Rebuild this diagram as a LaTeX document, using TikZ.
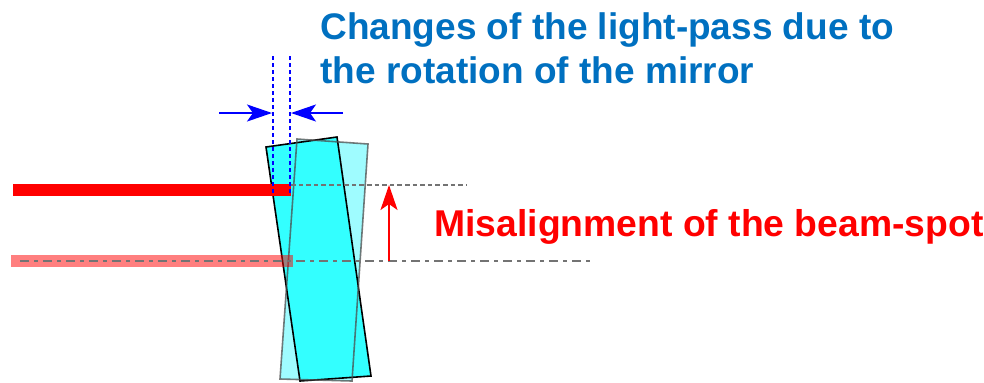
\documentclass[tikz,border=0pt]{standalone}
\usepackage{fontspec}
\setmainfont{Liberation Sans}
\usetikzlibrary{arrows.meta}
\definecolor{mirrorfill}{HTML}{33FFFF}
\definecolor{mirrorpale}{HTML}{9FFCFF}
\definecolor{titleblue}{HTML}{0070C0}
\tikzset{
	mirror/.style={draw=black, line width=0.8pt, line join=miter},
	paleline/.style={draw=black!70, draw opacity=0.75, line width=0.8pt},
	guide/.style={draw=black!55, line width=1.2pt},
	widtharrow/.style={blue, line width=1.1pt, -{Stealth[length=12.5pt, width=8.5pt, inset=3pt]}},
	shiftarrow/.style={red, line width=1.1pt, -{Stealth[length=12.5pt, width=8.5pt, inset=3pt]}},
	caption/.style={font=\bfseries\fontsize{18.65}{22}\selectfont, align=left, inner sep=0pt},
	heading/.style={font=\bfseries\fontsize{18.5}{22}\selectfont, align=left, inner sep=0pt}
}
\begin{document}
\begin{tikzpicture}[x=0.5pt, y=-0.5pt]

	\useasboundingbox (0, 0) rectangle (984, 382);

	% mirror, resting and rotated
	\fill[mirrorpale] (297, 139) -- (368, 144) -- (352, 381) -- (280, 379) -- cycle;
	\fill[mirrorfill] (266, 147) -- (337, 137) -- (371, 376) -- (300, 381) -- cycle;
	\draw[mirror] (266, 147) -- (337, 137) -- (371, 376) -- (300, 381) -- cycle;
	\draw[paleline] (297, 139) -- (368, 144) -- (352, 381) -- (280, 379) -- cycle;

	% beams
	\fill[red] (13, 184) rectangle (291, 196);
	\fill[red, opacity=0.5] (11, 255) rectangle (293, 267);

	\coordinate (s1) at (291, 185);
	\coordinate (s2) at (467, 185);
	\coordinate (t1) at (20, 261);
	\coordinate (t2) at (590, 261);
	\coordinate (u1) at (389, 261);
	\coordinate (u2) at (389, 185);
	\coordinate (v1) at (273, 56);
	\coordinate (v2) at (273, 196);
	\coordinate (w1) at (290, 56);
	\coordinate (w2) at (290, 196);
	\coordinate (a1) at (219, 113);
	\coordinate (a2) at (272, 113);
	\coordinate (b1) at (343, 113);
	\coordinate (b2) at (291, 113);

	\draw[guide, dash pattern=on 2.3pt off 1.5pt] (s1) -- (s2);
	\draw[guide, dash pattern=on 4.5pt off 2.5pt on 2pt off 2.5pt] (t1) -- (t2);
	\draw[blue, line width=1pt, dash pattern=on 2pt off 1.5pt] (v1) -- (v2);
	\draw[blue, line width=1pt, dash pattern=on 2pt off 1.5pt] (w1) -- (w2);

	\path[widtharrow]
	(a1) edge (a2)
	(b1) edge (b2);
	\draw[shiftarrow] (u1) -- (u2);

	\node (changes) [heading, text=titleblue, anchor=base west] at (320, 83) {Changes of the light-pass due to\\the rotation of the mirror};
	\node (misalign) [caption, text=red, anchor=base west] at (434, 236) {Misalignment of the beam-spot};

\end{tikzpicture}
\end{document}
